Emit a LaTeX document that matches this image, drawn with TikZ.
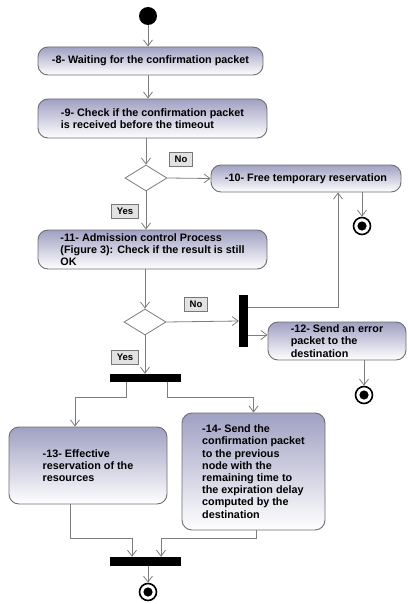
\documentclass[tikz,border=0pt]{standalone}
\usepackage{fontspec}
\setmainfont{Liberation Sans}
\usetikzlibrary{arrows.meta,shapes.geometric}
\definecolor{lineg}{RGB}{125,125,125}
\definecolor{boxtop}{RGB}{160,160,195}
\definecolor{boxedge}{RGB}{110,110,115}
\definecolor{lblfill}{RGB}{226,226,226}
\definecolor{lbledge}{RGB}{120,120,120}
\begin{document}
\begin{tikzpicture}[x=1pt,y=-1pt,
  act/.style={draw=boxedge, line width=0.9pt, rounded corners=10pt, top color=boxtop, bottom color=white,
    align=left, inner sep=0pt, font=\fontsize{10.8}{12.2}\selectfont\bfseries},
  arr/.style={draw=lineg, line width=0.8pt, -{Straight Barb[length=6pt,width=9pt]}},
  choice/.style={diamond, draw=lineg, line width=0.8pt, fill=white, inner sep=0pt, minimum width=42pt, minimum height=26pt},
  bar/.style={rectangle, fill=black, inner sep=0pt},
  lbl/.style={draw=lbledge, fill=lblfill, line width=0.9pt, inner xsep=5pt, inner ysep=0pt, minimum height=14pt, font=\fontsize{9.5}{11}\selectfont\bfseries},
  startstate/.style={circle, fill=black, inner sep=0pt, minimum size=18pt},
  endstate/.style={circle, draw=black, fill=white, line width=1.6pt, inner sep=0pt, minimum size=17pt,
    path picture={\fill[black] (path picture bounding box.center) circle (4.6pt);}}
]
\useasboundingbox (0,0) rectangle (407,604);

\node[startstate] (start) at (148,16) {};
\node[act, minimum width=225pt, minimum height=28pt] (b8) at (150.5,61) {-8- Waiting for the confirmation packet};
\node[act, minimum width=229pt, minimum height=39pt] (b9) at (152.5,118.5) {-9- Check if the confirmation packet\\is received before the timeout};
\node[choice] (d1) at (146,178) {};
\node[act, minimum width=190pt, minimum height=27pt] (b10) at (306,178.5) {-10- Free temporary reservation};
\node[endstate] (end1) at (362,226) {};
\node[act, minimum width=229pt, minimum height=39pt] (b11) at (152.5,249.5) {-11- Admission control Process\\(Figure 3): Check if the result is still\\OK};
\node[choice] (d2) at (145,322) {};
\node[bar, minimum width=9pt, minimum height=52pt] (vbar) at (243.5,321) {};
\node[act, minimum width=138pt, minimum height=38pt] (b12) at (337,341) {-12- Send an error\\packet to the\\destination};
\node[endstate] (end2) at (364,395) {};
\node[bar, minimum width=71pt, minimum height=8pt] (hbar1) at (145.5,378) {};
\node[act, minimum width=158pt, minimum height=77pt] (b13) at (88,465.5) {-13- Effective\\reservation of the\\resources};
\node[act, minimum width=143pt, minimum height=117pt] (b14) at (253.5,471.5) {-14- Send the\\confirmation packet\\to the previous\\node with the\\remaining time to\\the expiration delay\\computed by the\\destination};
\node[bar, minimum width=71pt, minimum height=9pt] (hbar2) at (145.5,561.5) {};
\node[endstate] (end3) at (148,592) {};

\node[lbl] (no1) at (181,159.5) {No};
\node[lbl] (yes1) at (125,211.5) {Yes};
\node[lbl] (no2) at (196,304) {No};
\node[lbl] (yes2) at (125,357) {Yes};

\draw[arr] (start.south) -- (start.south |- b8.north);
\draw[arr] (start |- b8.south) -- (start |- b9.north);
\draw[arr] (d1.north |- b9.south) -- (d1.north);
\draw[arr] (d1.east) -- (b10.west);
\draw[arr] (d1.south) -- (d1.south |- b11.north);
\draw[arr] (end1.north |- b10.south) -- (end1.north);
\draw[arr] (d2.north |- b11.south) -- (d2.north);
\draw[arr] (d2.east) -- (vbar.west);
\coordinate (v1) at ([yshift=14pt]vbar.east);
\coordinate (v2) at ([yshift=-14pt]vbar.east);
\draw[arr] (v1) -| ([xshift=32pt]b10.south);
\draw[arr] (v2) -- (v2 -| b12.west);
\draw[arr] (end2.north |- b12.south) -- (end2.north);
\draw[arr] (d2.south) -- (d2.south |- hbar1.north);
\draw[arr] ([xshift=-19.5pt]hbar1.south) -- ++(0,15) -| ([xshift=-13pt]b13.north);
\draw[arr] ([xshift=21.5pt]hbar1.south) -- ++(0,15) -| (b14.north);
\draw[arr] ([xshift=-18pt]b13.south) -- ++(0,34) -| ([xshift=-13.5pt]hbar2.north);
\draw[arr] ([xshift=2.5pt]b14.south) -- ++(0,8) -| ([xshift=15.5pt]hbar2.north);
\draw[arr] (end3.north |- hbar2.south) -- (end3.north);
\end{tikzpicture}
\end{document}
